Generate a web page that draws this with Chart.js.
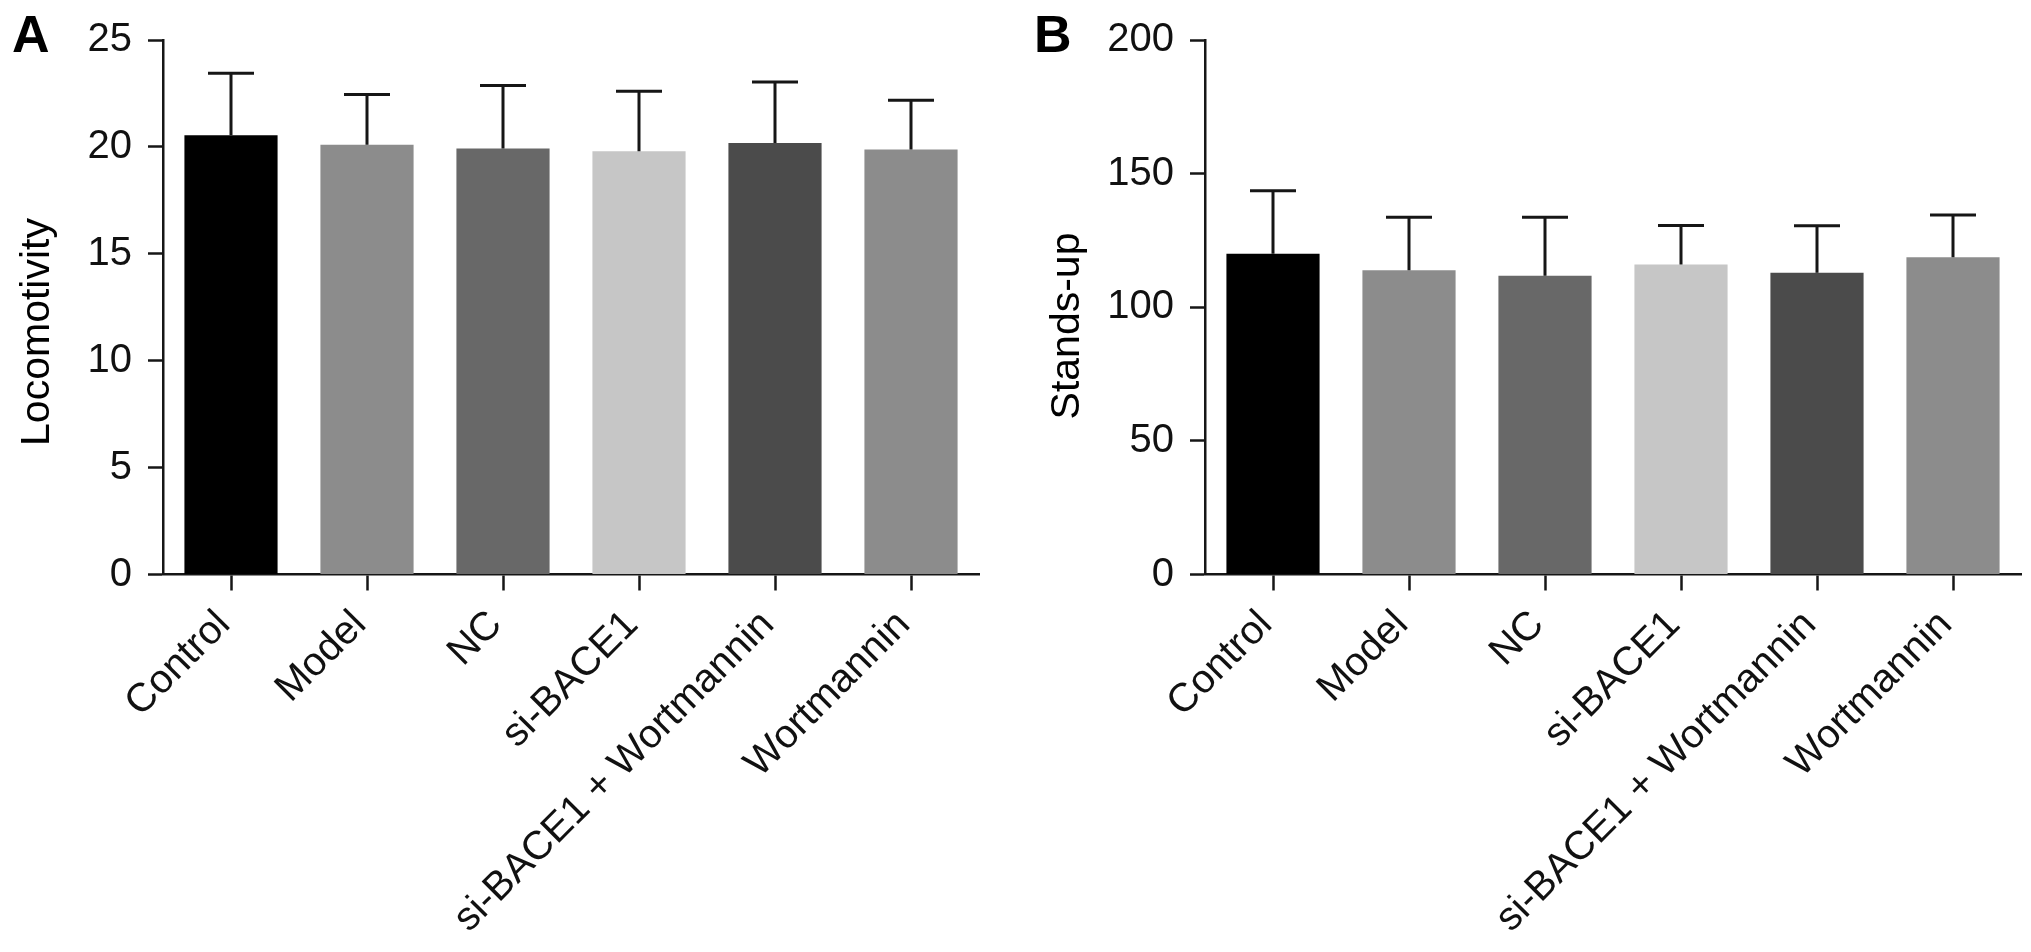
<!DOCTYPE html>
<html>
<head>
<meta charset="utf-8">
<script src="https://cdn.jsdelivr.net/npm/chart.js@4.4.1/dist/chart.umd.min.js"></script>
<style>
    html, body { margin: 0; padding: 0; background: #fff; }
    body { width: 2031px; height: 952px; position: relative; overflow: hidden; font-family: "Liberation Sans", Arial, sans-serif; }
    canvas { position: absolute; top: 0; }
    .letter { position: absolute; top: 8px; font-size: 52px; line-height: 1; font-weight: bold; color: #000; }
</style>
</head>
<body>
<div class="letter" style="left:12px">A</div>
<div class="letter" style="left:1034px">B</div>
<canvas id="chartA" width="1000" height="952" style="left:0"></canvas>
<canvas id="chartB" width="1031" height="952" style="left:1000px"></canvas>
<script>
// groups on the x axis
const groups = ['Control', 'Model', 'NC', 'si-BACE1', 'si-BACE1 + Wortmannin', 'Wortmannin'];

// panel A: locomotivity (mean and upper error)
const locoMean = [20.55, 20.1, 19.92, 19.8, 20.18, 19.88];
const locoErr = [2.9, 2.35, 2.95, 2.8, 2.85, 2.3];

// panel B: stands-up (mean and upper error)
const standsMean = [120, 113.8, 111.8, 116, 112.9, 118.7];
const standsErr = [23.6, 19.9, 21.9, 14.6, 17.6, 15.8];

const barColors = ['#000000', '#8c8c8c', '#686868', '#c6c6c6', '#4b4b4b', '#8c8c8c'];

const FONT = '"Liberation Sans", Arial, sans-serif';
const INK = '#161616';

// draws the upper error bar (line + cap) above each bar
const errorBarPlugin = {
    id: 'errorBars',
    afterDatasetsDraw(chart, args, opts) {
        const ctx = chart.ctx;
        const yScale = chart.scales.y;
        chart.data.datasets.forEach((ds, i) => {
            const meta = chart.getDatasetMeta(i);
            meta.data.forEach((bar, j) => {
                const top = yScale.getPixelForValue(ds.data[j] + ds.errors[j]);
                ctx.save();
                ctx.strokeStyle = INK;
                ctx.lineWidth = 3;
                ctx.beginPath();
                ctx.moveTo(bar.x, bar.y);
                ctx.lineTo(bar.x, top);
                ctx.moveTo(bar.x - opts.capWidth / 2, top);
                ctx.lineTo(bar.x + opts.capWidth / 2, top);
                ctx.stroke();
                ctx.restore();
            });
        });
    }
};

// y axis title, placed where the original figure has it
const yTitlePlugin = {
    id: 'yTitle',
    afterDraw(chart, args, opts) {
        const ctx = chart.ctx;
        ctx.save();
        ctx.translate(opts.x, opts.y);
        ctx.rotate(-Math.PI / 2);
        ctx.font = '41px ' + FONT;
        ctx.fillStyle = '#000';
        ctx.textAlign = 'center';
        ctx.textBaseline = 'middle';
        ctx.fillText(opts.text, 0, 0);
        ctx.restore();
    }
};

function makeChart(canvasId, means, errors, yMax, step, title, axisWidth, rightPad, titleX, titleY) {
    const ctx = document.getElementById(canvasId).getContext('2d');
    return new Chart(ctx, {
        type: 'bar',
        data: {
            labels: groups,
            datasets: [{
                data: means,
                errors: errors,
                backgroundColor: barColors,
                borderWidth: 0,
                categoryPercentage: 1.0,
                barPercentage: 0.685
            }]
        },
        options: {
            responsive: false,
            devicePixelRatio: 1,
            animation: false,
            layout: { padding: { top: 33, right: rightPad, left: 0, bottom: 0 } },
            plugins: {
                legend: { display: false },
                tooltip: { enabled: false },
                errorBars: { capWidth: 46 },
                yTitle: { text: title, x: titleX, y: titleY }
            },
            scales: {
                x: {
                    offset: true,
                    grid: {
                        display: true,
                        drawOnChartArea: false,
                        offset: false,
                        tickLength: 16,
                        tickWidth: 2.5,
                        tickColor: INK
                    },
                    border: { display: true, color: INK, width: 2.5 },
                    ticks: {
                        autoSkip: false,
                        maxRotation: 45,
                        minRotation: 45,
                        padding: 11,
                        labelOffset: -7,
                        color: '#111',
                        font: { family: FONT, size: 40 }
                    },
                    afterFit(scale) { scale.height = 377.5; }
                },
                y: {
                    min: 0,
                    max: yMax,
                    grid: {
                        display: true,
                        drawOnChartArea: false,
                        tickLength: 15,
                        tickWidth: 2.5,
                        tickColor: INK
                    },
                    border: { display: true, color: INK, width: 2.5 },
                    ticks: {
                        stepSize: step,
                        padding: 16,
                        color: '#111',
                        font: { family: FONT, size: 40 }
                    },
                    afterFit(scale) { scale.width = axisWidth; }
                }
            }
        },
        plugins: [errorBarPlugin, yTitlePlugin]
    });
}

makeChart('chartA', locoMean, locoErr, 25, 5, 'Locomotivity', 163, 21, 38, 332);
makeChart('chartB', standsMean, standsErr, 200, 50, 'Stands-up', 205, 10, 68, 326);
</script>
</body>
</html>
